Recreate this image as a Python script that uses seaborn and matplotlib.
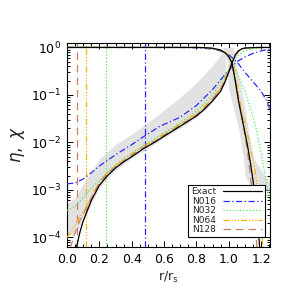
import numpy as np
import pandas as pd
import matplotlib
matplotlib.use("Agg")
import matplotlib.pyplot as plt
import seaborn as sns

# ---------------- data ----------------
labels = ["Exact", "N016", "N032", "N064", "N128"]
colors = ["#000000", "#2a2aff", "#55e855", "#ffb000", "#c8825f"]

exact_eta_x = [0.05, 0.06, 0.08, 0.10, 0.12, 0.15, 0.20, 0.25, 0.30, 0.35, 0.40, 0.47, 0.55, 0.60,
               0.70, 0.80, 0.85, 0.90, 0.95, 0.98, 1.00, 1.02, 1.04, 1.06, 1.08, 1.10, 1.15, 1.20, 1.26]
exact_eta_y = [4e-5, 6.5e-5, 1.3e-4, 2.2e-4, 3.3e-4, 6e-4, 1.25e-3, 2.0e-3, 2.9e-3, 3.9e-3, 5.0e-3,
               7.3e-3, 1.05e-2, 1.35e-2, 2.2e-2, 3.6e-2, 5.0e-2, 7.5e-2, 0.12, 0.2, 0.3, 0.47, 0.68,
               0.84, 0.93, 0.97, 0.99, 1.0, 1.0]
exact_chi_x = [0.0, 0.80, 0.85, 0.90, 0.95, 0.98, 1.00, 1.02, 1.04, 1.06, 1.08, 1.10, 1.115, 1.13,
               1.15, 1.17, 1.19, 1.21]
exact_chi_y = [1.0, 1.0, 0.99, 0.96, 0.88, 0.76, 0.64, 0.47, 0.2, 0.075, 0.035, 0.016, 9e-3, 4.5e-3,
               1.6e-3, 4.5e-4, 7e-5, 1e-5]

n016_eta_x = [0.0, 0.05, 0.10, 0.15, 0.20, 0.30, 0.40, 0.47, 0.575, 0.70, 0.80, 0.90, 0.95, 1.00,
              1.05, 1.10, 1.15, 1.20, 1.26]
n016_eta_y = [1.35e-3, 1.4e-3, 1.7e-3, 2.3e-3, 3.2e-3, 5.5e-3, 9e-3, 1.3e-2, 2.2e-2, 3.4e-2, 6e-2,
              0.13, 0.21, 0.33, 0.5, 0.63, 0.75, 0.85, 0.93]
n016_chi_x = [0.0, 0.70, 0.80, 0.85, 0.90, 0.95, 1.00, 1.05, 1.10, 1.15, 1.20, 1.24, 1.26]
n016_chi_y = [1.0, 1.0, 0.98, 0.96, 0.92, 0.84, 0.7, 0.5, 0.3, 0.19, 0.12, 0.07, 0.04]

n032_eta_x = [0.0, 0.05, 0.10, 0.15, 0.20, 0.24, 0.30, 0.40, 0.47, 0.55, 0.60, 0.70, 0.80, 0.85,
              0.90, 0.95, 0.98, 1.00, 1.02, 1.05, 1.10, 1.15, 1.20, 1.26]
n032_eta_y = [3.7e-4, 4.5e-4, 7e-4, 1.1e-3, 1.6e-3, 2.2e-3, 3.4e-3, 6e-3, 8.6e-3, 1.25e-2, 1.6e-2,
              2.6e-2, 4.6e-2, 6.6e-2, 0.1, 0.18, 0.26, 0.35, 0.47, 0.65, 0.85, 0.95, 0.99, 1.0]
n032_chi_x = [0.0, 0.75, 0.80, 0.85, 0.90, 0.95, 0.98, 1.00, 1.02, 1.05, 1.10, 1.15, 1.17, 1.20,
              1.233, 1.26]
n032_chi_y = [1.0, 1.0, 0.99, 0.97, 0.93, 0.84, 0.74, 0.64, 0.5, 0.3, 0.12, 0.035, 0.019, 6e-3,
              1.4e-3, 5e-4]

n064_eta_x = [0.0, 0.03, 0.06, 0.09, 0.12, 0.15, 0.20, 0.25, 0.30, 0.40, 0.47, 0.55, 0.60, 0.70,
              0.80, 0.85, 0.90, 0.95, 0.98, 1.00, 1.02, 1.04, 1.06, 1.08, 1.10, 1.15, 1.26]
n064_eta_y = [1.0e-4, 1.4e-4, 2.1e-4, 3.1e-4, 4.5e-4, 7e-4, 1.45e-3, 2.3e-3, 3.3e-3, 5.7e-3, 8.2e-3,
              1.15e-2, 1.5e-2, 2.45e-2, 4.0e-2, 5.7e-2, 8.6e-2, 0.14, 0.23, 0.34, 0.5, 0.7, 0.85,
              0.93, 0.97, 0.995, 1.0]
n064_chi_x = [0.0, 0.80, 0.85, 0.90, 0.95, 0.98, 1.00, 1.02, 1.04, 1.07, 1.10, 1.13, 1.16, 1.19,
              1.21, 1.23]
n064_chi_y = [1.0, 1.0, 0.99, 0.96, 0.89, 0.77, 0.66, 0.5, 0.27, 0.07, 0.026, 9e-3, 3e-3, 5e-4,
              7e-5, 1e-5]

n128_eta_x = [0.02, 0.04, 0.06, 0.08, 0.10, 0.12, 0.15, 0.20, 0.25, 0.30, 0.40, 0.47, 0.55, 0.60,
              0.70, 0.80, 0.85, 0.90, 0.95, 0.98, 1.00, 1.02, 1.04, 1.06, 1.08, 1.10, 1.15, 1.26]
n128_eta_y = [6e-5, 1.0e-4, 1.6e-4, 2.3e-4, 3.1e-4, 4.2e-4, 6.8e-4, 1.4e-3, 2.2e-3, 3.1e-3, 5.4e-3,
              7.8e-3, 1.1e-2, 1.42e-2, 2.3e-2, 3.8e-2, 5.4e-2, 8.2e-2, 0.135, 0.22, 0.33, 0.5,
              0.72, 0.87, 0.94, 0.98, 0.995, 1.0]
n128_chi_x = [0.0, 0.80, 0.85, 0.90, 0.95, 0.98, 1.00, 1.02, 1.04, 1.06, 1.08, 1.10, 1.12, 1.14,
              1.16, 1.175, 1.19]
n128_chi_y = [1.0, 1.0, 0.99, 0.96, 0.88, 0.75, 0.63, 0.47, 0.21, 0.085, 0.036, 0.015, 5e-3, 1.3e-3,
              2.5e-4, 6e-5, 1e-5]

# resolution markers (vertical lines) for N016, N032, N064, N128
res_x = [0.48, 0.24, 0.12, 0.06]

# grey envelope around eta
band_eta_x = [0.0, 0.05, 0.10, 0.20, 0.30, 0.40, 0.50, 0.60, 0.70, 0.80, 0.90, 0.95, 0.98]
band_eta_hi = [5e-4, 7e-4, 1.3e-3, 4.5e-3, 9e-3, 1.5e-2, 2.6e-2, 4.8e-2, 9e-2, 0.18, 0.42, 0.7, 0.95]
band_eta_lo = [1.1e-4, 1.2e-4, 2.2e-4, 1.15e-3, 2.6e-3, 4.7e-3, 7.6e-3, 1.25e-2, 2e-2, 3.4e-2, 7e-2,
               0.12, 0.18]
# grey envelope around chi (x range at given value)
band_chi_v = [1.0, 0.5, 0.13, 0.02, 5e-3, 2e-3, 1.5e-3, 1e-3]
band_chi_xl = [0.96, 0.99, 1.0, 1.06, 1.09, 1.10, 1.12, 1.15]
band_chi_xr = [1.03, 1.04, 1.08, 1.12, 1.15, 1.22, 1.26, 1.26]

# ---------------- styling ----------------
sns.set_theme(style="ticks")
plt.rcParams["font.family"] = ["DejaVu Sans"]
plt.rcParams["mathtext.fontset"] = "dejavusans"

fig = plt.figure(figsize=(2.93, 2.91), dpi=100)
ax = fig.add_axes([67 / 293, 44 / 291, 203 / 293, 204 / 291])

ax.fill_between(band_eta_x, band_eta_lo, band_eta_hi, color="#e2e2e2", lw=0, zorder=1)
ax.fill_betweenx(band_chi_v, band_chi_xl, band_chi_xr, color="#e2e2e2", lw=0, zorder=1)

styles = ["-", (0, (5, 2, 1, 2)), (0, (1, 1.6)), (0, (5, 1.5, 1, 1.5, 1, 1.5, 1, 1.5)), (0, (6, 4))]
res_styles = styles[1:]
res_colors = colors[1:]
for xv, c, ls in zip(res_x, res_colors, res_styles):
    ax.axvline(xv, color=c, linestyle=ls, lw=0.9, zorder=2)

series = [
    (exact_eta_x, exact_eta_y, exact_chi_x, exact_chi_y),
    (n016_eta_x, n016_eta_y, n016_chi_x, n016_chi_y),
    (n032_eta_x, n032_eta_y, n032_chi_x, n032_chi_y),
    (n064_eta_x, n064_eta_y, n064_chi_x, n064_chi_y),
    (n128_eta_x, n128_eta_y, n128_chi_x, n128_chi_y),
]
order = [1, 2, 3, 4, 0]
for i in order:
    ex, ey, cx, cy = series[i]
    z = 4 if i == 0 else 3
    sns.lineplot(x=ex, y=ey, ax=ax, color=colors[i], linestyle=styles[i], lw=0.9,
                 estimator=None, sort=False, label=labels[i], zorder=z)
    sns.lineplot(x=cx, y=cy, ax=ax, color=colors[i], linestyle=styles[i], lw=0.9,
                 estimator=None, sort=False, zorder=z)

ax.set_yscale("log")
ax.set_xlim(0, 1.255)
ax.set_ylim(6.3e-5, 1.24)
ax.set_xticks([0.0, 0.2, 0.4, 0.6, 0.8, 1.0, 1.2])
ax.set_xticklabels(["0.0", "0.2", "0.4", "0.6", "0.8", "1.0", "1.2"])
ax.xaxis.set_minor_locator(matplotlib.ticker.MultipleLocator(0.05))
ax.yaxis.set_minor_locator(matplotlib.ticker.LogLocator(base=10, subs=np.arange(2, 10), numticks=20))
ax.yaxis.set_minor_formatter(matplotlib.ticker.NullFormatter())
ax.tick_params(which="both", direction="in", top=True, right=True, colors="black",
               labelsize=9, width=0.7)
ax.tick_params(which="major", length=4.5, pad=4)
ax.tick_params(which="minor", length=2.2)
for s in ax.spines.values():
    s.set_color("black")
    s.set_linewidth(0.8)

ax.set_xlabel(r"r/r$_\mathrm{s}$", fontsize=9, labelpad=3)
ax.set_ylabel(r"$\eta,\ \chi$", fontsize=12, labelpad=3)

h, l = ax.get_legend_handles_labels()
hl = dict(zip(l, h))
leg = ax.legend([hl[k] for k in labels], labels, loc="lower right",
                bbox_to_anchor=(0.975, 0.049), borderaxespad=0, fontsize=6.5,
                markerfirst=False, handlelength=4.3, handletextpad=0.8,
                labelspacing=0.05, borderpad=0.3, fancybox=False, framealpha=1,
                edgecolor="black")
leg.get_frame().set_linewidth(0.8)
leg.set_zorder(10)

fig.savefig("out.png", dpi=100)
